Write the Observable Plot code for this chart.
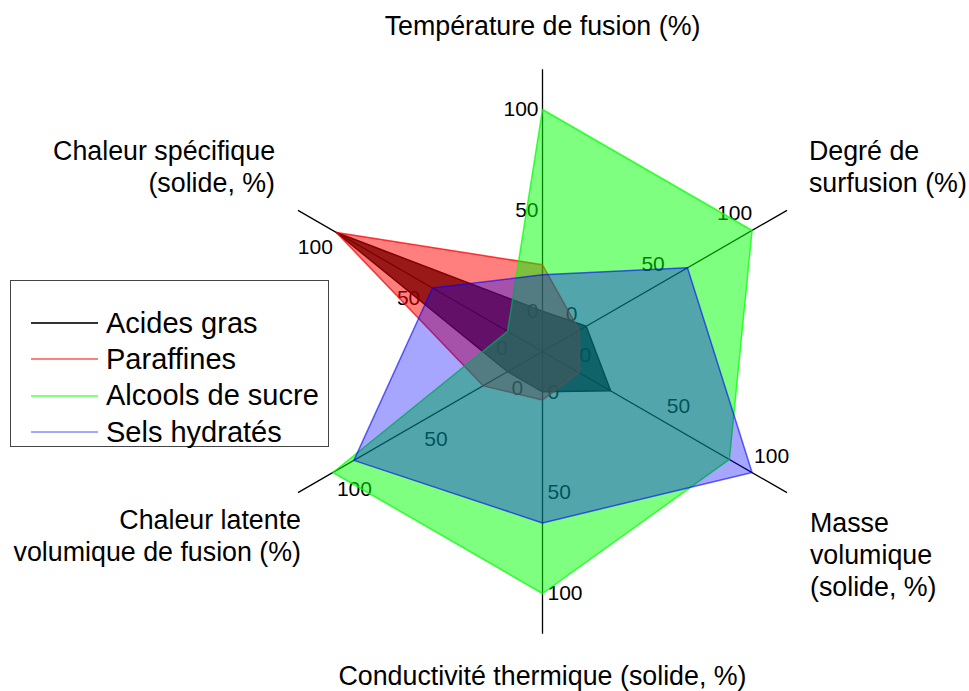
<!DOCTYPE html>
<html>
<head>
<meta charset="utf-8">
<script src="https://cdn.jsdelivr.net/npm/d3@7"></script>
<script src="https://cdn.jsdelivr.net/npm/@observablehq/plot@0.6"></script>
<style>
  body { margin: 0; background: #fff; font-family: "Liberation Sans", Arial, sans-serif; }
  #wrap { position: relative; width: 969px; height: 691px; overflow: hidden; }
  #wrap svg { overflow: visible; }
  #legend { position: absolute; left: 10px; top: 280px; width: 317px; height: 165px;
            border: 1px solid #444; background: #fff; }
  #legend .item { position: absolute; left: 0; height: 36px; display: flex; align-items: center; }
  #legend .sw { width: 67px; height: 0; border-top: 2px solid; margin-left: 20px; margin-right: 8px; }
  #legend .lab { font-size: 29px; color: #000; white-space: nowrap; }
</style>
</head>
<body>
<div id="wrap"></div>
<script>
// ---- data ----
const axisNames = [
  "Température de fusion (%)",
  "Degré de\nsurfusion (%)",
  "Masse\nvolumique\n(solide, %)",
  "Conductivité thermique (solide, %)",
  "Chaleur latente\nvolumique de fusion (%)",
  "Chaleur spécifique\n(solide, %)"
];
const seriesNames = ["Acides gras", "Paraffines", "Alcools de sucre", "Sels hydratés"];
const acidesGras     = [0, 5, 19, 0, 0, 98];
const paraffines     = [23, 1, 1, 4, 14, 98];
const alcoolsDeSucre = [100, 100, 87, 100, 100, 0];
const selsHydrates   = [18, 63, 100, 65, 88, 43];
const tickValues = [0, 50, 100];
const axisMax = 120;

// ---- style / layout ----
const seriesValues = [acidesGras, paraffines, alcoolsDeSucre, selsHydrates];
const seriesColors = ["#000000", "#ff0000", "#00ff00", "#0000ff"];
const seriesAlpha  = [0.8, 0.5, 0.5, 0.35];
const W = 969, H = 691, CX = 542, CY = 351;
const R0 = 20;               // radial offset (value -20 at the centre)
const PX = 242 / 120;        // pixels per radial unit
const ang = i => (90 - 60 * i) * Math.PI / 180;
const X = (v, i) => (v + R0) * Math.cos(ang(i));
const Y = (v, i) => (v + R0) * Math.sin(ang(i));

const rows = [];
seriesNames.forEach((s, k) => seriesValues[k].forEach((v, i) => rows.push({series: s, k, i, v})));
const tickRows = [];
axisNames.forEach((a, i) => tickValues.forEach(v => tickRows.push({i, v})));
const axisRows = axisNames.map((a, i) => ({i, a}));

const tickLayout = [
  {anchor: "end",   dx: -4, dy: 0},
  {anchor: "end",   dx: 0,  dy: -17},
  {anchor: "start", dx: 2,  dy: -16},
  {anchor: "start", dx: 5,  dy: 0},
  {anchor: "start", dx: 4,  dy: 17},
  {anchor: "end",   dx: 0,  dy: 17}
];
const labelLayout = [
  {r: 161.9, anchor: "middle", line: "middle", dx: 0,  dy: 0},
  {r: 152,   anchor: "start",  line: "bottom", dx: 1,  dy: -6},
  {r: 152,   anchor: "start",  line: "top",    dx: 2,  dy: 4},
  {r: 160.2, anchor: "middle", line: "middle", dx: 0,  dy: 0},
  {r: 152,   anchor: "end",    line: "top",    dx: 24, dy: 1},
  {r: 152,   anchor: "end",    line: "bottom", dx: -2, dy: -6}
];

const marks = [];
// axis lines
marks.push(Plot.link(axisRows, {
  x1: 0, y1: 0,
  x2: d => X(axisMax, d.i), y2: d => Y(axisMax, d.i),
  stroke: "#000", strokeWidth: 1.3
}));
// tick labels
axisNames.forEach((a, i) => {
  marks.push(Plot.text(tickRows.filter(d => d.i === i), {
    x: d => X(d.v, d.i), y: d => Y(d.v, d.i), text: d => String(d.v),
    textAnchor: tickLayout[i].anchor, dx: tickLayout[i].dx, dy: tickLayout[i].dy,
    fontSize: 21, fill: "#000"
  }));
});
// polygons
seriesNames.forEach((s, k) => {
  marks.push(Plot.line(rows.filter(d => d.k === k), {
    x: d => X(d.v, d.i), y: d => Y(d.v, d.i),
    curve: "linear-closed",
    fill: seriesColors[k], fillOpacity: seriesAlpha[k],
    stroke: seriesColors[k], strokeOpacity: Math.min(1, seriesAlpha[k] + 0.25), strokeWidth: 1.5
  }));
});
// axis names
axisRows.forEach(d => {
  const L = labelLayout[d.i];
  marks.push(Plot.text([d], {
    x: e => L.r * Math.cos(ang(e.i)), y: e => L.r * Math.sin(ang(e.i)),
    text: "a", textAnchor: L.anchor, lineAnchor: L.line, dx: L.dx, dy: L.dy,
    fontSize: 26.8, lineHeight: 1.2, fill: "#000"
  }));
});

const chart = Plot.plot({
  width: W, height: H,
  margin: 0,
  style: {fontFamily: '"Liberation Sans", Arial, sans-serif', background: "#fff", overflow: "visible"},
  x: {domain: [-CX / PX, (W - CX) / PX], range: [0, W], axis: null},
  y: {domain: [-(H - CY) / PX, CY / PX], range: [H, 0], axis: null},
  marks
});
const wrap = document.getElementById("wrap");
wrap.appendChild(chart);

// legend
const legend = document.createElement("div");
legend.id = "legend";
const legendColors = seriesColors.map((c, k) => {
  const col = d3.color(c); const a = seriesAlpha[k];
  return d3.rgb(col.r * a + 255 * (1 - a), col.g * a + 255 * (1 - a), col.b * a + 255 * (1 - a)).formatHex();
});
seriesNames.forEach((s, k) => {
  const it = document.createElement("div");
  it.className = "item";
  it.style.top = (24 + 36.4 * k) + "px";
  const sw = document.createElement("div");
  sw.className = "sw"; sw.style.borderTopColor = legendColors[k];
  const lab = document.createElement("span");
  lab.className = "lab"; lab.textContent = s;
  it.appendChild(sw); it.appendChild(lab);
  legend.appendChild(it);
});
wrap.appendChild(legend);
</script>
</body>
</html>
